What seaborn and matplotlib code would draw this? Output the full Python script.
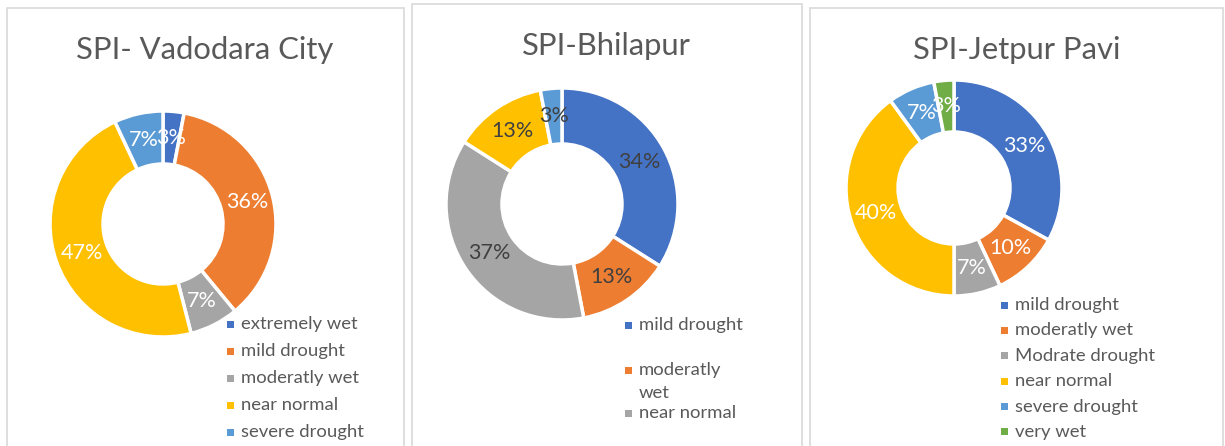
import matplotlib
matplotlib.use("Agg")
import matplotlib.pyplot as plt
import seaborn as sns
from matplotlib.patches import Rectangle

# data
vadodara_labels = ["extremely wet", "mild drought", "moderatly wet", "near normal", "severe drought"]
vadodara_values = [3, 36, 7, 47, 7]

bhilapur_labels = ["mild drought", "moderatly\nwet", "near normal", "severe drought", "very wet"]
bhilapur_values = [34, 13, 37, 13, 3]
bhilapur_legend_shown = 3  # legend is cut off by the panel in the original

jetpur_labels = ["mild drought", "moderatly wet", "Modrate drought", "near normal", "severe drought", "very wet"]
jetpur_values = [33, 10, 7, 40, 7, 3]

office = ["#4472C4", "#ED7D31", "#A5A5A5", "#FFC000", "#5B9BD5", "#70AD47"]

sns.set_theme(style="white")
plt.rcParams['font.family'] = ['Lato', 'DejaVu Sans']
palette = sns.color_palette(office)

W, H = 1225, 446
fig = plt.figure(figsize=(W / 100, H / 100), dpi=100)
ax = fig.add_axes([0, 0, 1, 1])


def py(y):
    # pixel row (from top) -> data y
    return H - y


def donut(values, cx, cy, r, r_in, txt_color):
    cols = palette[:len(values)]
    ax.pie(values, colors=cols, center=(cx, py(cy)), radius=r,
           startangle=90, counterclock=False,
           autopct=lambda p: f"{p:.0f}%", pctdistance=(r + r_in) / 2 / r,
           wedgeprops=dict(width=r - r_in, edgecolor="white", linewidth=2.5),
           textprops=dict(color=txt_color, fontsize=15.5))


def legend(labels, x, y0, steps):
    y = y0
    for i, lab in enumerate(labels):
        ax.add_patch(Rectangle((x - 3.5, py(y) - 3.5), 7, 7, color=palette[i], lw=0))
        ax.text(x + 11, py(y) + 8, lab, ha="left", va="top", fontsize=13.3,
                color="#595959", linespacing=1.5)
        if i < len(steps):
            y += steps[i]


def panel(x0, y0, x1, title, tx, ty):
    ax.add_patch(Rectangle((x0, -5), x1 - x0, py(y0) + 5, fill=False,
                           edgecolor="#D9D9D9", lw=1.2))
    ax.text(tx, py(ty), title, ha="center", va="center", fontsize=22.3, color="#595959")


panel(7, 8, 404, "SPI- Vadodara City", 205, 50)
panel(412, 4, 802, "SPI-Bhilapur", 606, 46)
panel(810, 8, 1223, "SPI-Jetpur Pavi", 1017, 50)

donut(vadodara_values, 163, 224, 113, 60, "white")
donut(bhilapur_values, 562, 204, 116, 60, "#404040")
donut(jetpur_values, 954, 188, 108, 56, "white")

legend(vadodara_labels, 230, 324, [27] * 4)
legend(bhilapur_labels[:bhilapur_legend_shown], 628, 325, [45, 43])
legend(jetpur_labels, 1004, 305, [25.4] * 5)

ax.set_xlim(0, W)
ax.set_ylim(0, H)
ax.set_aspect("auto")
ax.axis("off")

fig.savefig("out.png", dpi=100)
